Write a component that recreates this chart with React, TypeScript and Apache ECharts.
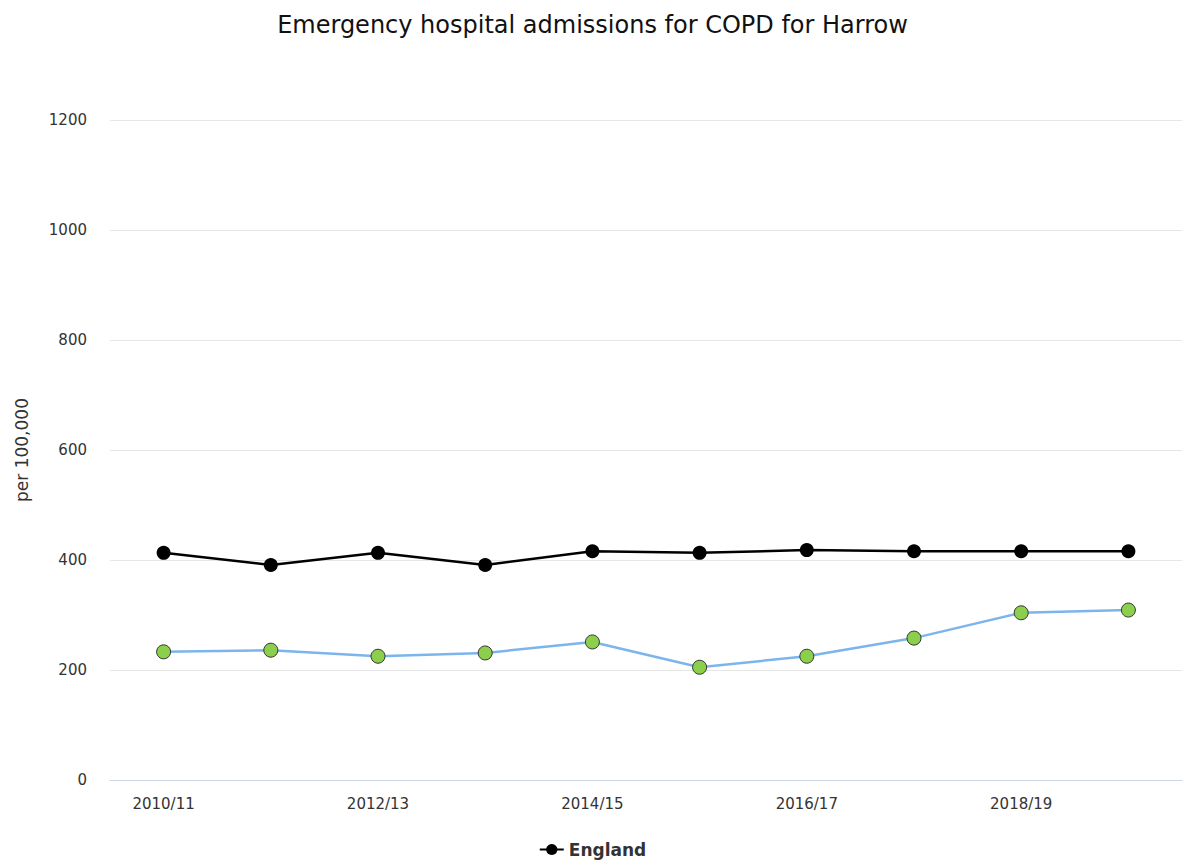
import React, { useEffect, useRef } from "react";
import * as echarts from "echarts";

const categories = ["2010/11", "2011/12", "2012/13", "2013/14", "2014/15", "2015/16", "2016/17", "2017/18", "2018/19", "2019/20"];
const harrowValues = [233, 236, 225, 231, 251, 205, 225, 258, 304, 309];
const englandValues = [413, 391, 413, 391, 416, 413, 418, 416, 416, 416];
const yTicks = [0, 200, 400, 600, 800, 1000, 1200];

export default function App() {
  const ref = useRef<HTMLDivElement>(null);
  useEffect(() => {
    const chart = echarts.init(ref.current!, null, { renderer: "svg" });
    const font = "DejaVu Sans, Verdana, sans-serif";
    chart.setOption({
      animation: false,
      backgroundColor: "#ffffff",
      title: {
        text: "Emergency hospital admissions for COPD for Harrow",
        left: "center",
        top: 8,
        textStyle: { fontFamily: font, fontSize: 24, fontWeight: "normal", color: "#111" },
      },
      legend: {
        data: ["England"],
        bottom: 1,
        left: "center",
        itemWidth: 24,
        itemHeight: 14,
        itemGap: 6,
        textStyle: { fontFamily: font, fontSize: 17, fontWeight: "bold", color: "#333" },
      },
      grid: { left: 110, right: 3, top: 120, bottom: 84, containLabel: false },
      xAxis: {
        type: "category",
        data: categories,
        boundaryGap: true,
        axisLine: { lineStyle: { color: "#ccd6eb" } },
        axisTick: { alignWithLabel: true, interval: 0, length: 6, lineStyle: { color: "#ccd6eb" } },
        axisLabel: { interval: 1, margin: 16, fontFamily: font, fontSize: 15, color: "#333" },
      },
      yAxis: {
        type: "value",
        min: yTicks[0],
        max: yTicks[yTicks.length - 1],
        interval: 200,
        name: "per 100,000",
        nameLocation: "middle",
        nameGap: 80,
        nameTextStyle: { fontFamily: font, fontSize: 17, color: "#333" },
        axisLine: { show: false },
        axisTick: { show: false },
        axisLabel: { margin: 23, fontFamily: font, fontSize: 15, color: "#333", formatter: (v: number) => String(v) },
        splitLine: { lineStyle: { color: "#e6e6e6" } },
      },
      series: [
        {
          name: "Harrow",
          type: "line",
          data: harrowValues,
          symbol: "circle",
          symbolSize: 14,
          lineStyle: { color: "#7cb5ec", width: 2.5 },
          itemStyle: { color: "#8ccf4d", borderColor: "#333", borderWidth: 1 },
          z: 2,
        },
        {
          name: "England",
          type: "line",
          data: englandValues,
          symbol: "circle",
          symbolSize: 14,
          lineStyle: { color: "#000", width: 2.5 },
          itemStyle: { color: "#000", borderColor: "#000", borderWidth: 0 },
          z: 3,
        },
      ],
    });
    return () => chart.dispose();
  }, []);
  return <div ref={ref} style={{ position: "fixed", left: 0, top: 0, width: 1185, height: 864 }} />;
}
